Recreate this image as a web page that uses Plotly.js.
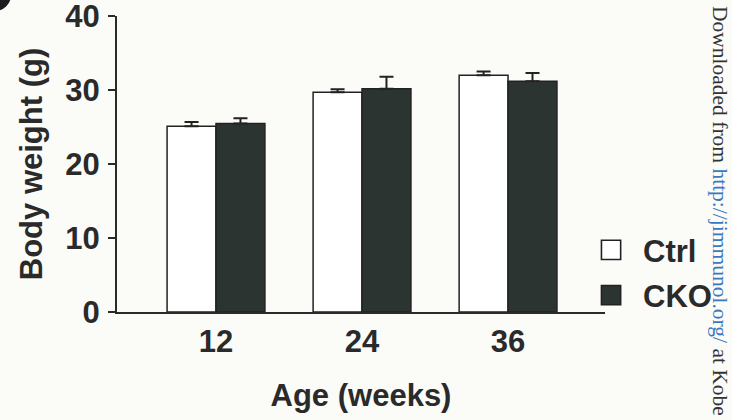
<!DOCTYPE html>
<html>
<head>
<meta charset="utf-8">
<script src="https://cdn.plot.ly/plotly-3.0.1.min.js"></script>
<style>html,body{margin:0;padding:0;background:#fbfbf8;}#chart{width:732px;height:420px;}</style>
</head>
<body>
<div id="chart"></div>
<script>
var ages = ["12", "24", "36"];
var ctrlMeans = [25.1, 29.7, 32.0];
var ctrlErr = [0.6, 0.4, 0.5];
var ckoMeans = [25.5, 30.2, 31.2];
var ckoErr = [0.7, 1.6, 1.1];
var yTicks = [0, 10, 20, 30, 40];

var ink = '#2a2a2a';
var fontFam = 'Liberation Sans, Arial, Helvetica, sans-serif';
function zeros(n){ var a=[]; for (var i=0;i<n;i++) a.push(0); return a; }

var traces = [
  {
    type: 'bar', name: 'Ctrl', x: ages, y: ctrlMeans,
    marker: {color: '#ffffff', line: {color: '#222222', width: 1.5}},
    error_y: {type: 'data', symmetric: false, array: ctrlErr, arrayminus: zeros(ctrlErr.length), color: '#222222', thickness: 2, width: 7},
    legendgroup: 'a'
  },
  {
    type: 'bar', name: 'CKO', x: ages, y: ckoMeans,
    marker: {color: '#2b3430', line: {color: '#222222', width: 1.5}},
    error_y: {type: 'data', symmetric: false, array: ckoErr, arrayminus: zeros(ckoErr.length), color: '#222222', thickness: 2, width: 7},
    legendgroup: 'b'
  }
];

var layout = {
  width: 732, height: 420,
  margin: {l: 117, r: 127, t: 16, b: 108, pad: 0},
  paper_bgcolor: '#fbfbf8', plot_bgcolor: '#fbfbf8',
  font: {family: fontFam, color: ink, size: 31, weight: 'bold'},
  barmode: 'group', bargap: 0.33, bargroupgap: 0,
  showlegend: true,
  legend: {
    x: 0.996, y: 0.30, xanchor: 'left', yanchor: 'top',
    font: {family: fontFam, size: 31, color: ink, weight: 'bold'},
    bgcolor: 'rgba(0,0,0,0)', tracegroupgap: 2, itemwidth: 30
  },
  xaxis: {
    type: 'category', categoryorder: 'array', categoryarray: ages,
    range: [-0.678, 2.664],
    showline: true, linecolor: ink, linewidth: 2,
    ticks: '', showgrid: false, zeroline: false,
    tickfont: {family: fontFam, size: 31, color: ink, weight: 'bold'},
    ticklabelstandoff: 1,
    title: {text: 'Age (weeks)', font: {family: fontFam, size: 31, color: ink, weight: 'bold'}, standoff: 26},
    fixedrange: true
  },
  yaxis: {
    range: [0, 40.02], tickvals: yTicks, ticktext: yTicks.map(String),
    showline: true, linecolor: ink, linewidth: 2,
    ticks: 'outside', ticklen: 7, tickwidth: 2, tickcolor: ink,
    showgrid: false, zeroline: false,
    tickfont: {family: fontFam, size: 31, color: ink, weight: 'bold'},
    ticklabelstandoff: 2, ticklabeloverflow: 'allow',
    title: {text: 'Body weight (g)', font: {family: fontFam, size: 31, color: ink, weight: 'bold'}, standoff: 13},
    fixedrange: true
  },
  shapes: [
    {type: 'circle', xref: 'paper', yref: 'paper',
     x0: (-21 - 117) / 488, x1: (11 - 117) / 488,
     y0: (312 - 11) / 296, y1: (312 + 21) / 296,
     fillcolor: '#1c1c1c', line: {width: 0}}
  ],
  annotations: [
    {xref: 'paper', yref: 'paper', x: (720 - 117) / 488, y: (312 - 211) / 296,
     xanchor: 'center', yanchor: 'middle', textangle: 90, showarrow: false,
     text: 'Downloaded from <span style="color:#3a78c2">http://jimmunol.org/</span> at Kobe',
     font: {family: 'Liberation Serif, Times New Roman, serif', size: 21.5, color: '#333333', weight: 'normal'}}
  ]
};

Plotly.newPlot('chart', traces, layout, {displayModeBar: false, staticPlot: true}).then(function(gd){
  var clipped = gd.querySelectorAll('.legend [clip-path]');
  for (var j = 0; j < clipped.length; j++) clipped[j].removeAttribute('clip-path');
  var paths = gd.querySelectorAll('.legend .legendpoints path');
  for (var i = 0; i < paths.length; i++) {
    paths[i].setAttribute('transform', 'translate(8,0) scale(1.6)');
    paths[i].style.strokeWidth = '1px';
  }
});
</script>
</body>
</html>
